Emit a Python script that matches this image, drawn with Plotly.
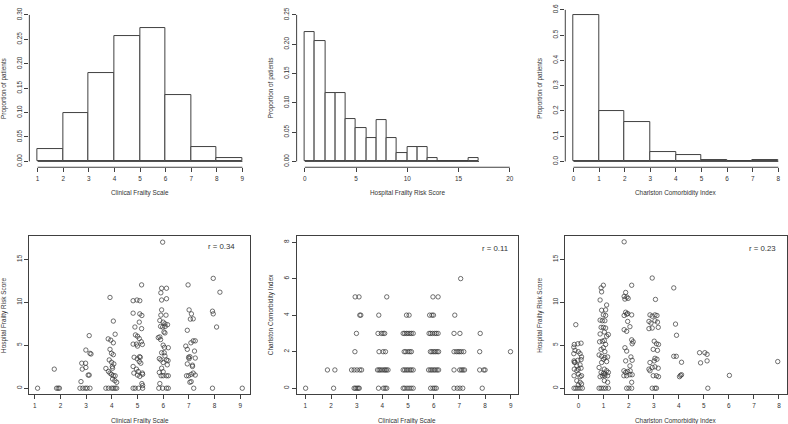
import plotly.graph_objects as go

# ---------------- data ----------------
# Histogram 1: Clinical Frailty Scale
cfs_edges = [1, 2, 3, 4, 5, 6, 7, 8, 9]
cfs_prop = [0.025, 0.099, 0.181, 0.256, 0.274, 0.135, 0.030, 0.006]

# Histogram 2: Hospital Frailty Risk Score
hfrs_edges = list(range(0, 18))
hfrs_prop = [0.221, 0.205, 0.116, 0.116, 0.073, 0.057, 0.040, 0.070, 0.040,
             0.0135, 0.025, 0.025, 0.005, 0.0, 0.0, 0.0, 0.005]

# Histogram 3: Charlston Comorbidity Index
cci_edges = [0, 1, 2, 3, 4, 5, 6, 7, 8]
cci_prop = [0.581, 0.199, 0.157, 0.038, 0.025, 0.0065, 0.0, 0.0065]

# Scatter 1: CFS (jittered) vs HFRS
sc1_cfs = [1.11,
           1.76, 1.85, 1.91, 1.96,
           3.12, 2.99, 3.15, 3.19, 2.83, 2.98, 2.85, 2.99, 3.08, 3.12, 2.80, 2.76, 2.87, 2.97, 3.04, 3.15,
           3.93, 4.06, 4.13, 3.86, 3.96, 4.06, 3.93, 3.99, 4.06, 3.90, 3.99, 4.08, 3.77, 4.02, 4.03, 3.87,
           3.93, 3.99, 4.06, 4.13, 4.03, 4.12, 4.19, 3.77, 3.87, 3.99, 4.06, 4.13, 4.19,
           5.16, 4.83, 4.98, 5.09, 4.83, 5.09, 5.17, 4.90, 5.07, 5.16, 4.92, 5.00, 5.07, 5.15, 4.83, 4.96,
           5.19, 5.00, 4.87, 4.99, 5.08, 5.11, 5.07, 5.13, 4.83, 4.96, 5.03, 4.86, 5.00, 5.09, 5.19, 5.20,
           5.17, 5.20, 4.83, 4.91, 5.04, 5.20,
           5.98, 5.94, 6.13, 5.91, 5.94, 6.13, 5.94, 5.91, 6.11, 5.87, 6.00, 6.07, 5.90, 5.98, 6.08, 6.17,
           5.87, 5.90, 6.03, 6.07, 5.81, 6.00, 6.05, 6.20, 5.94, 6.04, 5.85, 5.91, 6.07, 6.13, 6.19, 6.00,
           6.16, 5.94, 5.85, 6.00, 5.92, 6.00, 6.13, 6.20, 5.87, 5.83, 5.98, 6.13, 6.20,
           6.97, 7.01, 7.10, 7.06, 7.17, 6.94, 7.17, 7.25, 7.08, 6.88, 6.94, 7.22, 7.04, 6.99, 7.01, 7.25,
           6.94, 7.14, 7.14, 6.91, 6.99, 7.17, 7.25, 7.09, 7.04, 7.09, 7.19,
           7.95, 7.92, 7.95, 8.08, 8.21, 7.92,
           9.08]
sc1_hfrs = [0,
            2.22, 0, 0, 0,
            6.12, 4.44, 4.06, 3.98, 2.91, 2.91, 2.22, 2.41, 1.53, 1.53, 0.77, 0, 0, 0, 0, 0,
            10.56, 7.81, 6.28, 5.74, 5.59, 5.28, 4.52, 4.06, 3.90, 3.29, 3.02, 2.83, 2.30, 2.53, 2.33, 1.95,
            1.76, 1.61, 1.45, 1.45, 1.07, 0.88, 0.69, 0, 0, 0, 0, 0, 0,
            12.02, 10.18, 10.26, 10.18, 8.73, 8.65, 8.46, 7.12, 7.69, 6.93, 6.20, 6.05, 5.78, 5.40, 5.13, 5.13,
            5.09, 4.90, 3.60, 3.41, 3.67, 3.60, 3.10, 2.91, 2.53, 2.22, 1.95, 1.76, 1.53, 1.38, 1.76, 1.61,
            0.54, 0.31, 0, 0, 0, 0,
            16.99, 11.63, 11.63, 11.10, 10.26, 10.41, 9.11, 8.50, 8.50, 7.88, 7.69, 7.50, 7.19, 7.12, 7.19, 7.39,
            5.97, 5.66, 6.54, 6.43, 5.89, 5.01, 4.75, 4.71, 4.13, 4.13, 3.44, 3.29, 3.75, 3.29, 3.21, 2.99,
            2.72, 2.33, 1.84, 1.91, 1.45, 1.45, 1.45, 1.45, 0.54, 0, 0, 0, 0,
            12.02, 9.11, 8.65, 8.04, 8.07, 6.74, 5.51, 5.51, 5.28, 4.90, 4.52, 4.32, 3.67, 3.60, 3.44, 3.51,
            2.83, 2.68, 2.53, 1.45, 1.45, 1.76, 1.53, 1.61, 0.69, 0.77, 0,
            12.78, 8.96, 8.65, 7.12, 11.17, 0,
            0]

# Scatter 2: CFS (jittered) at each Charlston Comorbidity Index level
cci_levels = [0, 1, 2, 3, 4, 5, 6]
cfs_at_cci0 = [1.01, 2.10, 2.90, 2.95, 3.01, 3.06, 3.10, 3.85, 4.04, 4.11, 4.17, 4.81, 4.87, 4.96,
               5.04, 5.12, 5.20, 5.88, 5.97, 6.04, 6.10, 6.79, 6.92, 7.02, 7.13, 7.89]
cfs_at_cci1 = [1.86, 2.15, 2.80, 2.90, 3.01, 3.12, 3.19, 3.81, 3.87, 3.92, 3.99, 4.06, 4.11, 4.16,
               4.22, 4.81, 4.87, 4.94, 5.00, 5.07, 5.13, 5.20, 5.80, 5.87, 5.93, 6.00, 6.06, 6.13,
               6.19, 6.79, 7.01, 7.08, 7.14, 7.20, 7.79, 7.95, 8.00]
cfs_at_cci2 = [2.93, 3.87, 4.03, 4.12, 4.85, 4.91, 5.00, 5.07, 5.13, 5.87, 5.93, 6.00, 6.06, 6.13,
               6.19, 6.79, 6.88, 6.95, 7.01, 7.08, 7.17, 7.79, 8.99]
cfs_at_cci3 = [2.99, 3.83, 3.96, 4.03, 4.09, 4.81, 4.87, 4.94, 5.00, 5.07, 5.13, 5.20, 5.82, 5.88,
               5.95, 6.04, 6.10, 6.17, 6.79, 7.02, 7.81]
cfs_at_cci4 = [3.12, 3.16, 3.86, 4.94, 5.04, 5.84, 5.93, 5.99, 6.82]
cfs_at_cci5 = [2.94, 3.09, 4.17, 5.97, 6.17]
cfs_at_cci6 = [7.05]

# Scatter 3: CCI (jittered) vs HFRS
sc3_cci = [-0.11, -0.17, -0.03, 0.10, -0.19, -0.14, -0.01, -0.19, 0.06, 0.12, 0.10, -0.18, -0.17, -0.14,
           -0.03, -0.07, 0.06, -0.01, 0.10, -0.17, -0.07, -0.01, 0.12, -0.18, 0.06, -0.07, 0.06, -0.01,
           0.12, -0.18, -0.11, -0.03, 0.06, 0.15,
           0.99, 0.90, 0.92, 1.12, 0.86, 0.92, 1.08, 0.99, 1.08, 0.86, 0.95, 1.05, 0.90, 0.99, 1.08, 1.03,
           0.86, 1.19, 1.12, 0.95, 1.03, 0.84, 1.08, 0.99, 0.90, 1.05, 0.82, 0.92, 1.05, 1.16, 0.99, 0.92,
           1.12, 0.82, 1.03, 0.90, 0.99, 1.12, 1.05, 1.19, 0.86, 0.95, 1.05, 1.16, 1.03, 1.16, 0.82, 0.90,
           0.99, 1.08, 1.19,
           1.82, 2.12, 1.88, 1.82, 1.93, 1.98, 1.85, 1.88, 1.92, 1.82, 1.96, 2.12, 1.96, 2.05, 1.82, 1.92,
           2.12, 2.18, 2.14, 1.85, 1.92, 2.09, 2.14, 1.88, 2.05, 1.81, 1.88, 1.96, 2.06, 1.81, 1.92, 2.05,
           2.14, 2.12, 1.92, 2.01, 2.12,
           2.94, 3.07, 2.85, 2.94, 3.05, 3.13, 3.05, 3.15, 2.81, 2.89, 2.94, 3.18, 2.81, 3.02, 3.11, 3.19,
           2.98, 3.15, 2.85, 3.02, 3.05, 3.13, 2.81, 2.85, 2.94, 3.05, 3.18, 2.98, 3.11, 3.19, 2.94, 3.05,
           3.11,
           3.80, 3.87, 3.91, 3.80, 3.90, 4.11, 4.07, 4.11, 4.03, 4.83, 4.87, 5.04, 5.13, 5.13, 5.16, 6.02,
           7.95]
sc3_hfrs = [7.39, 5.09, 5.17, 5.24, 4.78, 4.40, 4.25, 4.02, 4.02, 3.64, 3.33, 3.18, 3.02, 3.02,
            3.25, 2.60, 2.72, 2.22, 2.33, 2.22, 2.03, 1.65, 1.45, 1.45, 1.34, 0.88, 0.69, 0.38,
            0.50, 0, 0, 0, 0, 0,
            11.98, 11.67, 11.21, 9.68, 10.26, 9.07, 9.11, 8.53, 8.46, 7.92, 7.85, 7.85, 7.08, 7.08, 7.00, 6.54,
            6.31, 6.24, 6.05, 5.47, 5.55, 5.40, 5.09, 4.71, 4.52, 4.25, 3.87, 3.71, 3.56, 3.64, 3.37, 2.99,
            3.10, 2.41, 2.22, 1.84, 1.72, 2.03, 1.65, 1.84, 1.34, 1.45, 1.45, 1.45, 0.88, 0.69, 0, 0,
            0, 0, 0,
            17.03, 11.98, 11.14, 10.68, 10.60, 10.45, 10.37, 8.84, 8.61, 8.46, 8.69, 8.53, 7.77, 7.16, 6.81, 6.62,
            5.63, 5.40, 5.17, 4.71, 4.32, 3.64, 3.25, 3.18, 2.60, 2.03, 1.84, 1.95, 2.03, 1.45, 1.45, 1.57,
            1.57, 0.69, 0, 0, 0,
            12.82, 10.33, 8.53, 8.38, 8.53, 8.46, 7.85, 7.69, 7.77, 7.58, 7.00, 7.08, 6.93, 5.47, 5.17, 5.09,
            4.52, 4.40, 2.99, 3.18, 3.48, 3.37, 2.22, 2.03, 2.41, 2.49, 2.33, 1.45, 1.45, 1.34, 0, 0,
            0,
            11.67, 7.46, 6.16, 3.71, 3.71, 3.02, 1.49, 1.57, 1.34, 4.13, 2.95, 4.13, 3.94, 3.18, 0, 1.49,
            3.10]

r_labels = ["r = 0.34", "r = 0.11", "r = 0.23"]

x_titles = ["Clinical Frailty Scale", "Hospital Frailty Risk Score", "Charlston Comorbidity Index",
            "Clinical Frailty Scale", "Clinical Frailty Scale", "Charlston Comorbidity Index"]
y_titles = ["Proportion of patients", "Proportion of patients", "Proportion of patients",
            "Hospital Frailty Risk Score", "Charlston Comorbidity Index", "Hospital Frailty Risk Score"]

# ---------------- layout helpers ----------------
W, H = 788, 424
FONT = "Liberation Sans, Arial, sans-serif"
LINE = "#404040"
TXT = "#333333"
TICKF = 6.4


def dx(a, b):
    return [a / W, b / W]


def dy(top, bottom):
    return [1 - bottom / H, 1 - top / H]


col_px = [(29.4, 250.8), (297.0, 518.6), (566.0, 787.5)]
top_px = (4.1, 164.2)
bot_px = (234.0, 393.7)

fig = go.Figure()

# histograms
hists = [(cfs_edges, cfs_prop), (hfrs_edges, hfrs_prop), (cci_edges, cci_prop)]
for i, (edges, prop) in enumerate(hists):
    k = "" if i == 0 else str(i + 1)
    widths = [edges[j + 1] - edges[j] for j in range(len(prop))]
    fig.add_trace(go.Bar(x=edges[:-1], y=prop, width=widths, offset=0,
                         marker=dict(color="white", line=dict(color=LINE, width=1)),
                         xaxis="x" + k, yaxis="y" + k, showlegend=False, hoverinfo="skip"))

# scatter markers (open circles like R's pch = 1)
marker = dict(symbol="circle-open", size=4.4, color="#333333", line=dict(width=0.7, color="#333333"))
fig.add_trace(go.Scatter(x=sc1_cfs, y=sc1_hfrs, mode="markers", marker=marker,
                         xaxis="x4", yaxis="y4", showlegend=False))
groups = [cfs_at_cci0, cfs_at_cci1, cfs_at_cci2, cfs_at_cci3, cfs_at_cci4, cfs_at_cci5, cfs_at_cci6]
sc2_x, sc2_y = [], []
for lev, g in zip(cci_levels, groups):
    sc2_x += g
    sc2_y += [lev] * len(g)
fig.add_trace(go.Scatter(x=sc2_x, y=sc2_y, mode="markers", marker=marker,
                         xaxis="x5", yaxis="y5", showlegend=False))
fig.add_trace(go.Scatter(x=sc3_cci, y=sc3_hfrs, mode="markers", marker=marker,
                         xaxis="x6", yaxis="y6", showlegend=False))

axis_specs = [
    # (xrange, xtick0, xdtick, yrange, ydtick, yfmt, box)
    ([0.676, 9.316], 1, 1, [-0.012, 0.312], 0.05, ".2f", False),
    ([-0.8, 20.8], 0, 5, [-0.010, 0.260], 0.05, ".2f", False),
    ([-0.32, 8.32], 0, 1, [-0.0232, 0.6032], 0.1, ".1f", False),
    ([0.79, 9.40], 1, 1, [-0.68, 17.68], 5, "d", True),
    ([0.66, 9.28], 1, 1, [-0.32, 8.32], 2, "d", True),
    ([-0.53, 8.30], 0, 1, [-0.68, 17.68], 5, "d", True),
]

layout = dict(width=W, height=H, margin=dict(l=0, r=0, t=0, b=0),
              paper_bgcolor="white", plot_bgcolor="white", bargap=0,
              font=dict(family=FONT, color=TXT, size=TICKF))
shapes, annotations = [], []
for i, (xr, xt0, xdt, yr, ydt, yfmt, box) in enumerate(axis_specs):
    k = "" if i == 0 else str(i + 1)
    c = col_px[i % 3]
    rowp = top_px if i < 3 else bot_px
    common = dict(showgrid=False, zeroline=False, ticks="outside", ticklen=4, tickwidth=1,
                  tickcolor=LINE, tickfont=dict(size=TICKF, color=TXT, family=FONT),
                  showline=box, mirror=box, linecolor=LINE, linewidth=1, fixedrange=True)
    layout["xaxis" + k] = dict(domain=dx(*c), range=xr, anchor="y" + k, tickmode="linear",
                               tick0=xt0, dtick=xdt, ticklabelstandoff=1, **common)
    layout["yaxis" + k] = dict(domain=dy(*rowp), range=yr, anchor="x" + k, tickmode="linear",
                               tick0=0, dtick=ydt, tickformat=yfmt, tickangle=-90, **common)
    if not box:
        edges = hists[i][0]
        x_last = edges[0] + xdt * int(round((xr[1] - edges[0]) // xdt))
        y_last = ydt * int((yr[1] + 1e-9) // ydt)
        # R-style axis lines spanning only the tick range
        shapes.append(dict(type="line", xref="x" + k, yref="y" + k + " domain",
                           x0=edges[0], x1=x_last, y0=0, y1=0, line=dict(color=LINE, width=1)))
        shapes.append(dict(type="line", xref="x" + k + " domain", yref="y" + k,
                           x0=0, x1=0, y0=0, y1=y_last, line=dict(color=LINE, width=1)))
        # baseline of the histogram (empty bins are drawn as flat bars)
        shapes.append(dict(type="line", xref="x" + k, yref="y" + k,
                           x0=edges[0], x1=edges[-1], y0=0, y1=0, line=dict(color=LINE, width=1)))
    # axis titles
    xt_y = 190.7 if i < 3 else 421.0
    annotations.append(dict(text=x_titles[i], xref="paper", yref="paper", x=(c[0] + c[1]) / 2 / W,
                            y=1 - xt_y / H, showarrow=False, xanchor="center", yanchor="middle",
                            font=dict(size=TICKF, color=TXT, family=FONT)))
    annotations.append(dict(text=y_titles[i], xref="paper", yref="paper", x=(c[0] - 25.6) / W,
                            y=1 - (rowp[0] + rowp[1]) / 2 / H, showarrow=False, textangle=-90,
                            xanchor="center", yanchor="middle",
                            font=dict(size=TICKF, color=TXT, family=FONT)))

r_pos = [(237.3, 244.3), (510.3, 246.7), (779.0, 246.7)]
for lab, (rx, ry) in zip(r_labels, r_pos):
    annotations.append(dict(text=lab, xref="paper", yref="paper", x=rx / W, y=1 - ry / H,
                            showarrow=False, xanchor="right", yanchor="middle",
                            font=dict(size=7.8, color=TXT, family=FONT)))

layout["shapes"] = shapes
layout["annotations"] = annotations
fig.update_layout(**layout)
fig.write_html("out.html", config={"displayModeBar": False},
               post_script="document.body.style.margin='0px';")
